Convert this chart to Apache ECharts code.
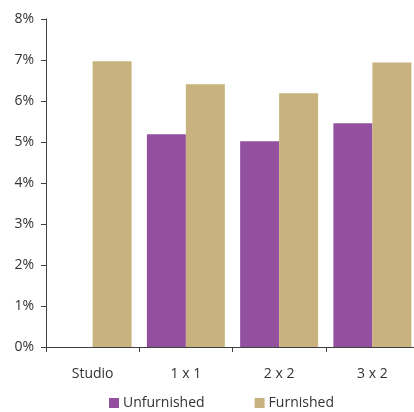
<!DOCTYPE html>
<html>
<head>
<meta charset="utf-8">
<script src="https://cdn.jsdelivr.net/npm/echarts@6/dist/echarts.min.js"></script>
<style>
  html, body { margin: 0; padding: 0; background: #fff; }
  #chart { width: 414px; height: 412px; }
</style>
</head>
<body>
<div id="chart"></div>
<script>
// categories and values (percent)
var categories = ["Studio", "1 x 1", "2 x 2", "3 x 2"];
var unfurnished = [null, 5.19, 5.02, 5.46];
var furnished = [6.97, 6.41, 6.19, 6.94];
var yTicks = [0, 1, 2, 3, 4, 5, 6, 7, 8];

var axisColor = "#404040";
var textColor = "#333";
var fontFamily = "Open Sans, Noto Sans, sans-serif";

var myChart = echarts.init(document.getElementById("chart"));
var options = {
  animation: false,
  // the plot runs a little past the right edge, as in the source picture
  grid: { left: 46, width: 373, top: 19, height: 328, outerBoundsMode: "none", containLabel: false },
  legend: {
    left: 104,
    top: 391,
    icon: "rect",
    itemWidth: 10,
    itemHeight: 10,
    itemGap: 50,
    textStyle: { color: textColor, fontSize: 14, fontFamily: fontFamily, padding: [0, 0, 0, -1] },
    data: ["Unfurnished", "Furnished"]
  },
  xAxis: {
    type: "category",
    data: categories,
    axisLine: { lineStyle: { color: axisColor, width: 1 } },
    axisTick: { show: true, length: 5, lineStyle: { color: axisColor } },
    axisLabel: { color: textColor, fontSize: 14, fontFamily: fontFamily, margin: 20 }
  },
  yAxis: {
    type: "value",
    min: yTicks[0],
    max: yTicks[yTicks.length - 1],
    interval: 1,
    axisLine: { show: true, lineStyle: { color: axisColor, width: 1 } },
    axisTick: { show: true, length: 5, lineStyle: { color: axisColor } },
    splitLine: { show: false },
    axisLabel: {
      color: textColor,
      fontSize: 14,
      fontFamily: fontFamily,
      margin: 12,
      formatter: function (v) { return v + "%"; }
    }
  },
  series: [
    {
      name: "Unfurnished",
      type: "bar",
      data: unfurnished,
      barGap: "0%",
      barCategoryGap: "16.4%",
      itemStyle: { color: "#93509E" }
    },
    {
      name: "Furnished",
      type: "bar",
      data: furnished,
      barGap: "0%",
      barCategoryGap: "16.4%",
      itemStyle: { color: "#C8B27D" }
    }
  ]
};
myChart.setOption(options);
</script>
</body>
</html>
